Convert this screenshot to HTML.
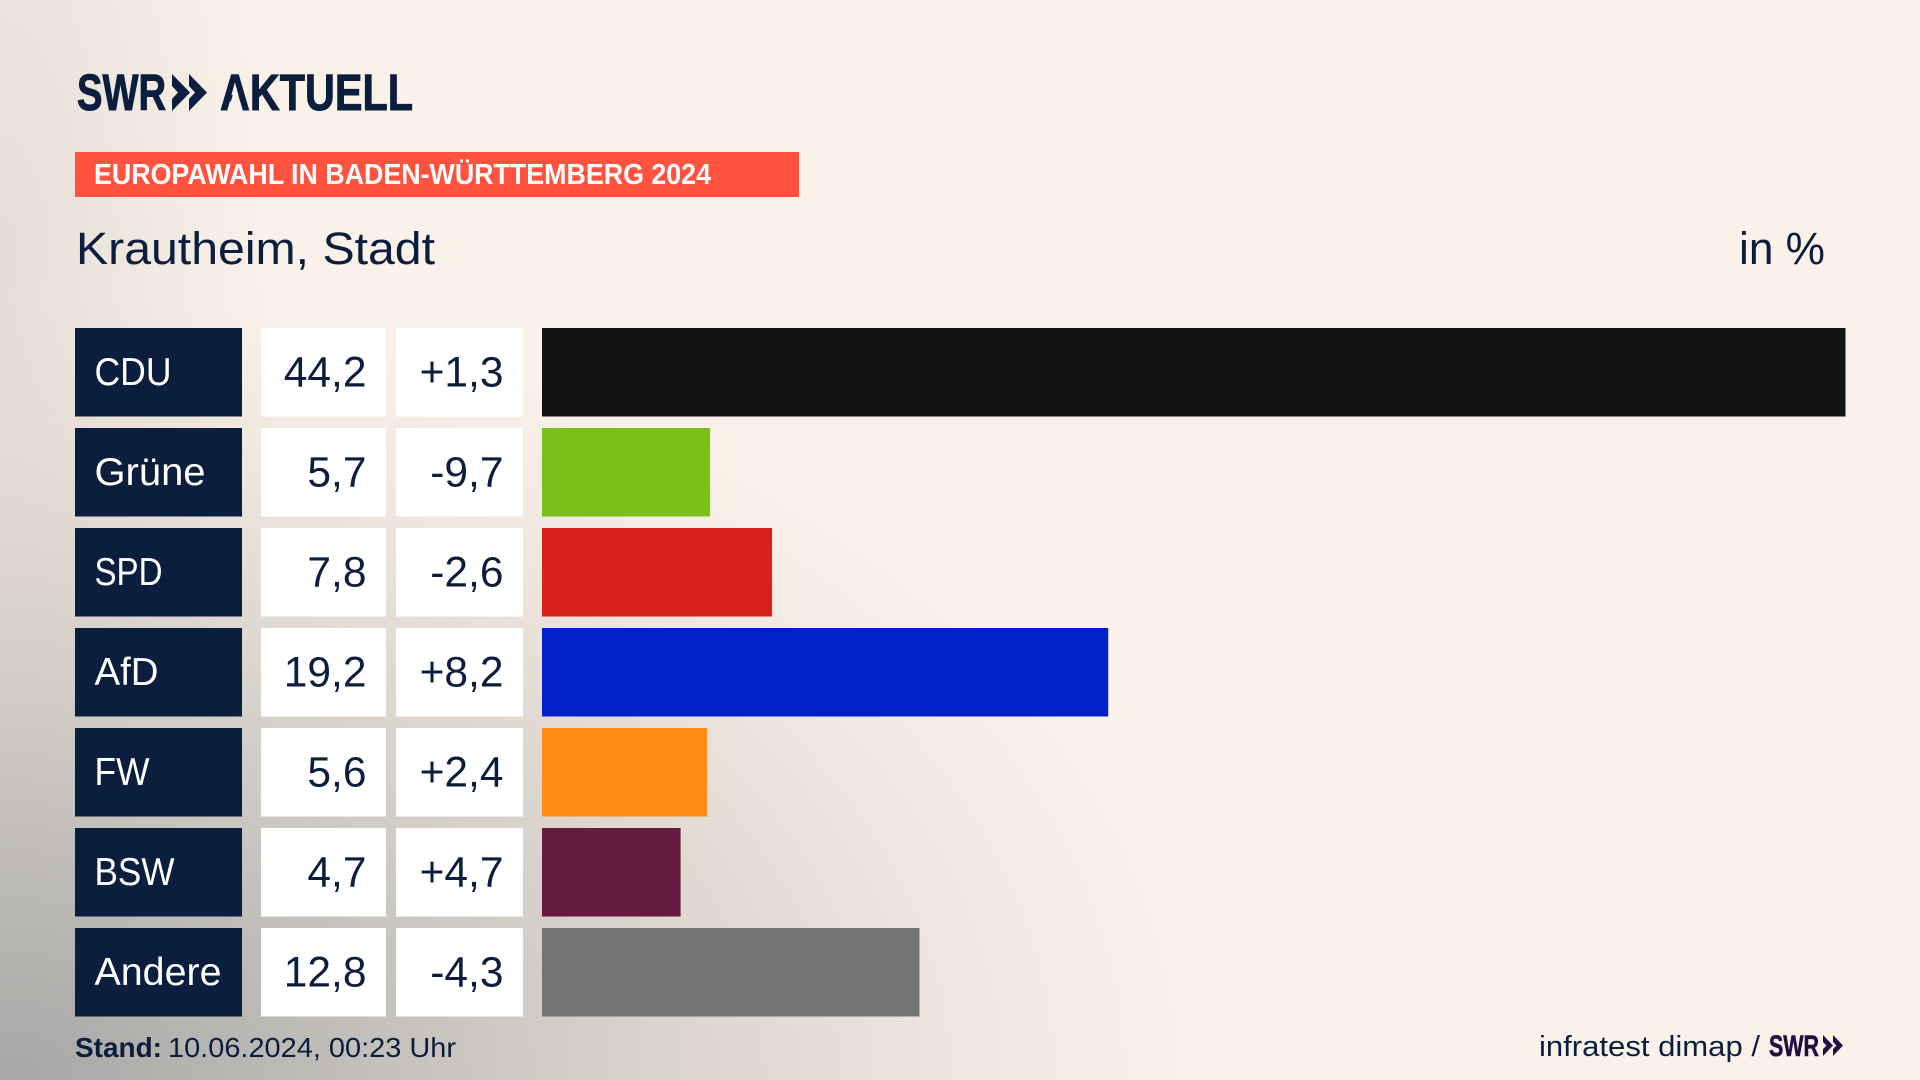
<!DOCTYPE html>
<html lang="de">
<head>
<meta charset="utf-8">
<title>Europawahl in Baden-Württemberg 2024 – Krautheim, Stadt</title>
<style>
html,body{margin:0;padding:0;width:1920px;height:1080px;overflow:hidden;background:#faf2e8}
#stage{position:absolute;left:0;top:0;width:1920px;height:1080px;
background:
radial-gradient(ellipse 1300px 850px at 0px 1080px,rgba(160,160,160,.92) 0%,rgba(176,175,172,.84) 22%,rgba(198,194,189,.68) 48%,rgba(225,216,207,.42) 74%,rgba(245,236,226,.1) 92%,rgba(250,242,232,0) 100%),
radial-gradient(ellipse 330px 1000px at 0px 300px,rgba(205,200,192,.5) 0%,rgba(215,210,202,.28) 45%,rgba(240,232,222,.08) 80%,rgba(250,242,232,0) 100%),
#faf2e8}
svg{position:absolute;left:0;top:0}
text{font-family:"Liberation Sans",sans-serif}
</style>
</head>
<body>
<div id="stage">
<svg id="chart" width="1920" height="1080" viewBox="0 0 1920 1080">
  <g>
    <text x="77" y="110" font-size="51" font-weight="700" fill="#0b1e3d" stroke="#0b1e3d" stroke-width="1" textLength="89" lengthAdjust="spacingAndGlyphs">SWR</text>
    <polygon points="172,74 190,92.500 172,111 172,99 178,92.500 172,86" fill="#0b1e3d"/>
    <polygon points="189,74 207,92.500 189,111 189,99 195,92.500 189,86" fill="#0b1e3d"/>
    <text x="220" y="110" font-size="51" font-weight="700" fill="#0b1e3d" stroke="#0b1e3d" stroke-width="1" textLength="193" lengthAdjust="spacingAndGlyphs">AKTUELL</text>
    <polygon points="235.500,86 243,111 228,111" fill="#f8f0e6"/>
  </g>
  <rect x="75" y="152" width="724" height="45" fill="#ff523f"/>
  <text x="94" y="184" font-size="28.500" font-weight="700" fill="#ffffff" textLength="617" lengthAdjust="spacingAndGlyphs">EUROPAWAHL IN BADEN-WÜRTTEMBERG 2024</text>
  <text x="76" y="264" font-size="45" fill="#0b1e3d" textLength="359" lengthAdjust="spacingAndGlyphs">Krautheim, Stadt</text>
  <text x="1739" y="264" font-size="45" fill="#0b1e3d" textLength="86" lengthAdjust="spacingAndGlyphs">in %</text>
  <g id="rows"></g>
  <text x="75" y="1057" font-size="28" font-weight="700" fill="#0b1e3d" textLength="87" lengthAdjust="spacingAndGlyphs">Stand:</text>
  <text x="168" y="1057" font-size="28" fill="#0b1e3d" textLength="288" lengthAdjust="spacingAndGlyphs">10.06.2024, 00:23 Uhr</text>
  <text x="1539" y="1056" font-size="29" fill="#0b1e3d" textLength="221" lengthAdjust="spacingAndGlyphs">infratest dimap /</text>
  <g>
    <text x="1769" y="1056" font-size="30" font-weight="700" fill="#1f0f45" stroke="#1f0f45" stroke-width="0.6" textLength="50" lengthAdjust="spacingAndGlyphs">SWR</text>
    <polygon points="1823,1035 1833,1045.500 1823,1056 1823,1049 1826.500,1045.500 1823,1042" fill="#1f0f45"/>
    <polygon points="1833,1035 1843,1045.500 1833,1056 1833,1049 1836.500,1045.500 1833,1042" fill="#1f0f45"/>
  </g>
</svg>
</div>
<script>
const parties = ['CDU', 'Grüne', 'SPD', 'AfD', 'FW', 'BSW', 'Andere'];
const shares = [44.2, 5.7, 7.8, 19.2, 5.6, 4.7, 12.8];
const changes = [1.3, -9.7, -2.6, 8.2, 2.4, 4.7, -4.3];

// Presentation only
const barColors = ['#131313', '#7abf1a', '#d8201d', '#0320c8', '#ff8c14', '#661a3f', '#737476'];
const labelFit = { 'CDU': 77, 'Grüne': 111, 'SPD': 68, 'AfD': 64, 'FW': 55, 'BSW': 80, 'Andere': 127 };
const NS = 'http://www.w3.org/2000/svg';
const rowsGroup = document.getElementById('rows');
const barX = v => 542;
const barWidth = v => v * (1303.5 / 44.2);
const rowY = i => 328 + i * 100;
const fmtShare = v => v.toFixed(1).replace('.', ',');
const fmtChange = v => (v > 0 ? '+' : '') + v.toFixed(1).replace('.', ',');

function rect(x, y, w, h, fill) {
  const r = document.createElementNS(NS, 'rect');
  r.setAttribute('x', x);
  r.setAttribute('y', y);
  r.setAttribute('width', w);
  r.setAttribute('height', h);
  r.setAttribute('fill', fill);
  rowsGroup.appendChild(r);
  return r;
}
function label(x, y, size, fill, anchor, str) {
  const t = document.createElementNS(NS, 'text');
  t.setAttribute('x', x);
  t.setAttribute('y', y);
  t.setAttribute('font-size', size);
  t.setAttribute('fill', fill);
  t.setAttribute('text-anchor', anchor);
  t.textContent = str;
  rowsGroup.appendChild(t);
  return t;
}

parties.forEach((party, i) => {
  const y = rowY(i);
  const h = 88.5;

  const labelBox = rect(75, y, 167, h, '#0b1e3d');
  
  

  const labelText = label(94.5, y + 57, 39, '#ffffff', 'start', party);
  labelText.setAttribute('textLength', labelFit[party] || 80);
  labelText.setAttribute('lengthAdjust', 'spacingAndGlyphs');
  
  

  const shareBox = rect(261, y, 125, h, '#ffffff');
  
  

  const shareText = label(366.5, y + 58.5, 42.5, '#0b1e3d', 'end', fmtShare(shares[i]));
  
  

  const changeBox = rect(396, y, 127, h, '#ffffff');
  
  

  const changeText = label(503.5, y + 58.5, 42.5, '#0b1e3d', 'end', fmtChange(changes[i]));
  
  

  const bar = rect(barX(shares[i]), y, barWidth(shares[i]), h, barColors[i]);
  
  
});
</script>
</body>
</html>
